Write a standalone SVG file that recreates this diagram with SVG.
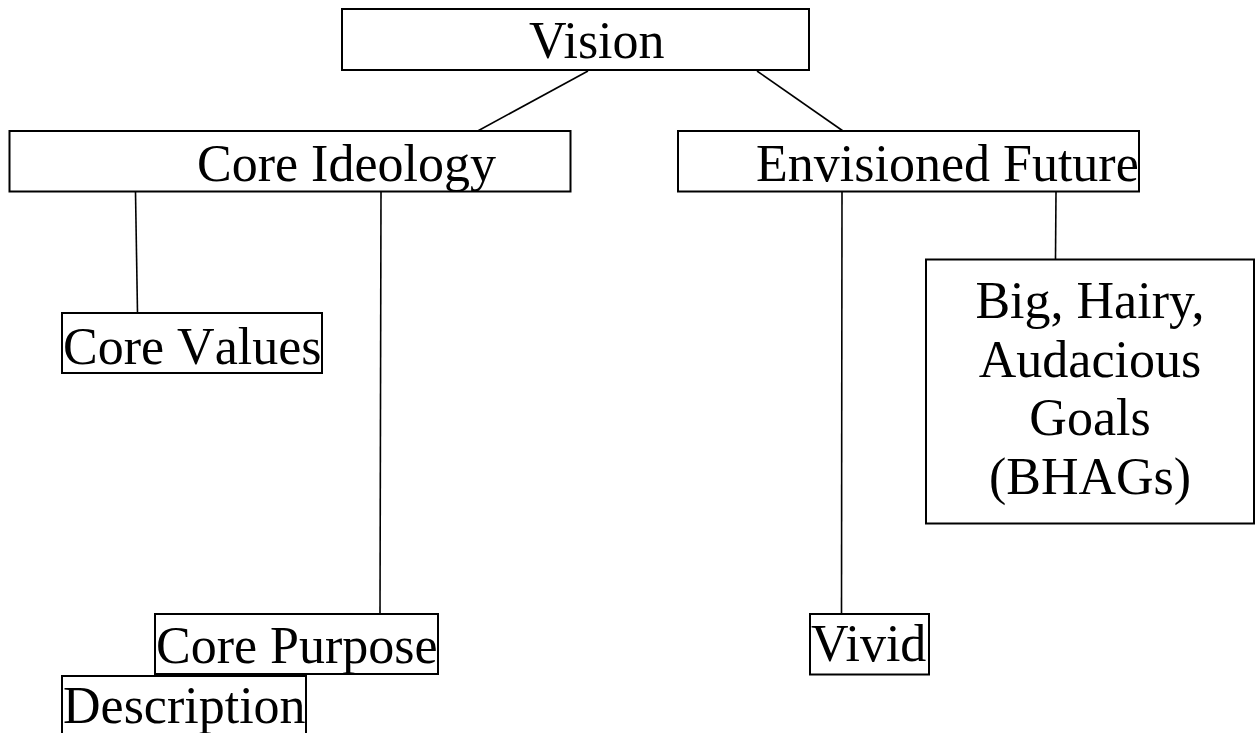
<svg xmlns="http://www.w3.org/2000/svg" width="1260" height="733" viewBox="0 0 1260 733">
<style>
.box{fill:#ffffff;stroke:#000000;stroke-width:2}
.lbl{font-family:"Liberation Serif","Times New Roman",serif;font-size:52px;fill:#000000}
.c{text-anchor:middle}
.nk{font-kerning:none}
.conn line{stroke:#000000;stroke-width:1.6}
</style>
<rect x="0" y="0" width="1260" height="733" fill="#ffffff"/>
<g id="connectors" class="conn">
<line x1="588" y1="71" x2="474" y2="133"/>
<line x1="757" y1="71" x2="843" y2="131"/>
<line x1="135.5" y1="192" x2="137.5" y2="313"/>
<line x1="381" y1="192" x2="380" y2="614"/>
<line x1="842" y1="192" x2="841.5" y2="614"/>
<line x1="1056" y1="192" x2="1055.5" y2="259"/>
</g>
<g id="vision">
<rect class="box" x="342" y="9" width="467" height="61"/>
<text class="lbl" x="529" y="58">Vision</text>
</g>
<g id="core-ideology">
<rect class="box" x="9.5" y="131" width="561" height="60.5"/>
<text class="lbl" x="197" y="181">Core Ideology</text>
</g>
<g id="envisioned-future">
<rect class="box" x="678" y="131" width="461" height="60.5"/>
<text class="lbl" x="756" y="181">Envisioned Future</text>
</g>
<g id="core-values">
<rect class="box" x="62" y="313" width="260" height="60"/>
<text class="lbl nk" x="63" y="364">Core Values</text>
</g>
<g id="bhags">
<rect class="box" x="926" y="259.5" width="328" height="264"/>
<text class="lbl c" x="1090" y="318">Big, Hairy,</text>
<text class="lbl c" x="1090" y="377">Audacious</text>
<text class="lbl c" x="1090" y="435">Goals</text>
<text class="lbl c" x="1090" y="494">(BHAGs)</text>
</g>
<g id="core-purpose">
<rect class="box" x="155" y="614" width="283" height="60"/>
<text class="lbl" x="156" y="663">Core Purpose</text>
</g>
<g id="description">
<rect class="box" x="62" y="676" width="244" height="70"/>
<text class="lbl" x="63" y="723">Description</text>
</g>
<g id="vivid">
<rect class="box" x="810" y="614" width="119" height="60.5"/>
<text class="lbl" x="811" y="661">Vivid</text>
</g>
</svg>
